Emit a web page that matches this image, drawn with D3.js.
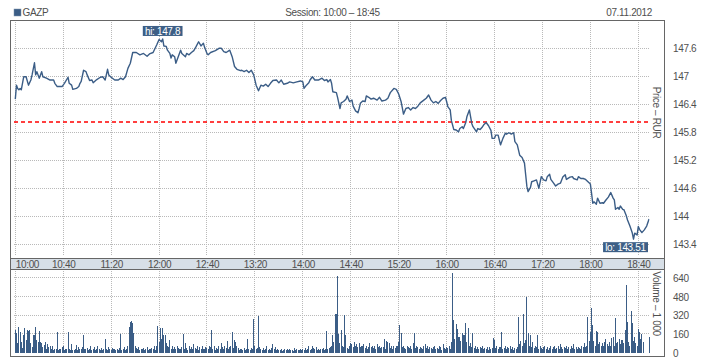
<!DOCTYPE html>
<html><head><meta charset="utf-8">
<script src="https://cdn.jsdelivr.net/npm/d3@7"></script>
<style>
html,body{margin:0;padding:0;background:#fff;}
svg text{font-family:"Liberation Sans",Arial,sans-serif;font-size:10px;fill:#4f4f4f;letter-spacing:-0.35px;}
</style></head><body>
<svg id="c" width="718" height="360"></svg>
<script>
const ticker = "GAZP";
const sessionLabel = "Session: 10:00 – 18:45";
const dateLabel = "07.11.2012";
const tradeDay = "2012-11-07";
const priceAxisTitle = "Price – RUR";
const volumeAxisTitle = "Volume – 1 000";
const timeTicks = ["10:00","10:40","11:20","12:00","12:40","13:20","14:00","14:40","15:20","16:00","16:40","17:20","18:00","18:40"];
const priceTicks = [143.4,144,144.6,145.2,145.8,146.4,147,147.6];
const volumeTicks = [0,160,320,480,640];
const prevClose = 146.02;

const priceSeries = [
["10:00",146.51],["10:01",146.81],["10:02",146.74],["10:03",146.71],["10:04",146.74],["10:05",146.71],["10:07",146.99],["10:09",146.99],
["10:11",146.81],["10:13",146.92],["10:14",147.03],["10:16",147.29],["10:17",147.03],["10:18",147.10],["10:20",146.96],["10:22",147.10],
["10:23",146.99],["10:26",146.96],["10:29",146.92],["10:32",146.92],["10:33",146.85],["10:35",146.78],["10:39",146.78],["10:41",146.85],
["10:44",146.98],["10:45",146.85],["10:47",146.81],["10:48",146.72],["10:51",146.74],["10:53",146.78],["10:54",146.85],["10:55",146.89],
["10:57",147.13],["10:59",147.10],["11:00",147.03],["11:02",146.91],["11:04",146.92],["11:05",146.86],["11:08",146.93],["11:11",146.98],
["11:13",146.99],["11:15",146.92],["11:17",147.15],["11:18",147.03],["11:20",146.98],["11:23",146.92],["11:26",146.92],["11:28",146.96],
["11:30",146.93],["11:32",146.99],["11:34",147.17],["11:36",147.28],["11:38",147.51],["11:41",147.51],["11:44",147.46],["11:47",147.49],
["11:50",147.43],["11:52",147.48],["11:55",147.51],["11:58",147.67],["12:00",147.79],["12:02",147.74],["12:03",147.80],["12:04",147.65],
["12:06",147.64],["12:07",147.56],["12:09",147.49],["12:10",147.39],["12:11",147.46],["12:13",147.42],["12:14",147.28],["12:16",147.42],
["12:18",147.56],["12:19",147.49],["12:22",147.42],["12:23",147.49],["12:25",147.46],["12:27",147.51],["12:29",147.55],["12:31",147.64],
["12:33",147.74],["12:35",147.65],["12:37",147.71],["12:38",147.62],["12:40",147.49],["12:41",147.46],["12:43",147.51],["12:47",147.55],
["12:50",147.60],["12:52",147.60],["12:54",147.53],["12:56",147.51],["12:59",147.56],["13:01",147.42],["13:03",147.21],["13:05",147.15],
["13:08",147.12],["13:09",147.13],["13:11",147.10],["13:13",147.13],["13:15",147.08],["13:17",147.13],["13:18",147.08],["13:19",147.03],
["13:21",146.81],["13:23",146.69],["13:25",146.81],["13:27",146.79],["13:29",146.83],["13:31",146.78],["13:33",146.85],["13:35",146.91],
["13:38",146.92],["13:40",146.86],["13:42",146.92],["13:44",146.83],["13:47",146.85],["13:49",146.88],["13:52",146.86],["13:55",146.88],
["13:58",146.90],["14:00",146.88],["14:01",146.74],["14:03",146.81],["14:05",146.86],["14:06",146.92],["14:08",146.99],["14:10",146.92],
["14:13",146.92],["14:16",146.96],["14:18",146.91],["14:20",146.93],["14:21",146.88],["14:23",146.93],["14:24",146.85],["14:25",146.67],
["14:28",146.65],["14:29",146.55],["14:31",146.31],["14:32",146.43],["14:34",146.46],["14:36",146.51],["14:37",146.58],["14:39",146.46],
["14:41",146.49],["14:42",146.36],["14:44",146.26],["14:46",146.22],["14:47",146.31],["14:48",146.42],["14:50",146.47],["14:52",146.46],
["14:53",146.58],["14:55",146.55],["14:57",146.51],["14:59",146.53],["15:02",146.49],["15:04",146.55],["15:06",146.47],["15:09",146.49],
["15:11",146.53],["15:13",146.65],["15:16",146.74],["15:18",146.72],["15:20",146.62],["15:22",146.46],["15:23",146.33],["15:24",146.19],
["15:26",146.31],["15:28",146.33],["15:30",146.28],["15:32",146.33],["15:34",146.31],["15:36",146.36],["15:38",146.43],["15:41",146.49],
["15:43",146.53],["15:45",146.60],["15:47",146.49],["15:49",146.43],["15:51",146.46],["15:53",146.42],["15:55",146.48],["15:57",146.53],
["15:59",146.55],["16:00",146.46],["16:01",146.35],["16:03",146.28],["16:04",146.05],["16:06",145.86],["16:08",145.85],["16:10",145.81],
["16:11",145.88],["16:13",145.92],["16:14",145.88],["16:16",146.01],["16:17",146.14],["16:19",146.28],["16:21",145.99],["16:22",145.92],
["16:25",145.81],["16:26",145.88],["16:28",145.86],["16:30",145.92],["16:31",145.96],["16:33",146.01],["16:35",145.94],["16:37",145.84],
["16:38",145.67],["16:40",145.67],["16:41",145.74],["16:43",145.74],["16:45",145.53],["16:47",145.67],["16:49",145.78],["16:50",145.76],
["16:52",145.79],["16:54",145.76],["16:56",145.79],["16:57",145.60],["16:59",145.53],["17:01",145.31],["17:03",145.26],["17:05",145.14],
["17:06",144.89],["17:07",144.64],["17:08",144.53],["17:10",144.62],["17:11",144.74],["17:13",144.76],["17:15",144.78],["17:17",144.60],
["17:19",144.85],["17:21",144.78],["17:23",144.76],["17:24",144.85],["17:26",144.90],["17:27",144.79],["17:29",144.72],["17:31",144.65],
["17:33",144.69],["17:35",144.71],["17:37",144.84],["17:39",144.89],["17:40",144.79],["17:43",144.84],["17:45",144.85],["17:46",144.81],
["17:49",144.78],["17:50",144.85],["17:52",144.81],["17:54",144.81],["17:56",144.79],["17:58",144.74],["18:00",144.69],["18:01",144.49],
["18:02",144.28],["18:03",144.31],["18:05",144.26],["18:06",144.39],["18:08",144.28],["18:10",144.29],["18:11",144.28],["18:13",144.35],
["18:15",144.41],["18:17",144.51],["18:19",144.39],["18:20",144.35],["18:21",144.15],["18:23",144.19],["18:24",144.15],["18:25",144.22],
["18:27",144.15],["18:28",144.14],["18:30",144.01],["18:31",143.92],["18:33",143.79],["18:35",143.64],["18:36",143.51],["18:37",143.64],
["18:39",143.60],["18:40",143.78],["18:41",143.72],["18:43",143.65],["18:45",143.71],["18:47",143.79],["18:49",143.94]
];

// one-minute volume bars (thousands), starting at volumeStart
const volumeStart = "10:00";
const volumes = [
194,165,80,222,180,88,43,150,208,108,
190,182,190,80,50,150,150,222,108,88,
185,88,80,50,65,88,35,70,45,60,
30,55,22,35,30,173,22,30,35,50,
60,22,30,28,173,35,22,70,22,22,
30,65,22,50,35,30,45,151,35,28,
40,22,30,55,20,28,45,22,35,60,
30,25,40,22,30,117,35,20,45,30,
22,40,28,35,20,30,25,40,162,22,
30,45,25,35,60,222,265,270,250,165,
60,40,30,45,22,35,28,40,22,30,
45,25,35,28,40,30,55,22,60,230,
90,213,120,213,150,151,80,60,45,108,
35,60,30,45,28,55,40,30,35,50,
159,30,80,40,25,60,35,45,28,70,
40,30,55,25,45,30,60,35,28,50,
40,30,55,45,191,30,60,25,40,35,
55,30,80,45,28,60,40,100,35,50,
60,173,40,110,90,60,40,25,30,35,
22,40,25,30,117,30,22,40,30,287,
60,30,40,313,50,30,22,40,25,35,
60,22,30,25,40,70,30,45,25,35,
20,25,30,18,22,28,20,35,22,30,
20,25,18,40,22,30,20,25,35,22,
28,20,40,25,30,55,22,35,60,40,
30,45,25,35,22,30,28,40,25,30,
185,30,40,45,60,151,90,327,327,654,
160,80,193,60,45,321,151,40,35,60,
80,70,45,90,60,75,50,80,45,60,
55,70,40,60,35,50,80,45,60,40,
55,35,70,45,60,40,50,45,117,35,
100,90,80,40,60,35,55,40,60,60,
90,236,165,50,60,40,35,55,45,40,
60,35,85,165,40,60,45,35,50,40,
30,60,70,40,55,35,50,40,30,45,
60,35,40,30,55,45,25,70,40,35,
50,40,60,35,90,683,278,120,244,202,
130,137,100,165,155,150,250,90,213,60,
80,45,165,40,60,35,50,30,45,40,
60,35,40,30,50,25,45,35,40,125,
110,40,60,35,45,50,173,30,40,55,
35,50,40,60,30,45,25,40,35,50,
304,71,100,60,327,80,110,475,165,60,
151,50,88,40,60,45,151,35,55,40,
30,45,60,35,50,25,40,60,30,45,
55,35,40,60,30,75,45,35,50,40,
60,30,45,35,55,40,70,30,45,35,
50,40,35,60,45,80,50,60,304,100,
173,384,236,100,60,185,173,70,88,60,
80,60,90,120,70,60,88,60,128,137,
60,299,80,90,117,70,110,108,80,193,
577,264,94,60,355,256,100,137,80,60,
202,180,120,156,88,0,0,0,0,137
];

// ---------- drawing ----------
const parseT = d3.timeParse("%Y-%m-%d %H:%M");
const t = s => parseT(tradeDay + " " + s);
const blue = "#3b5d86";

const W = 718, H = 360;
const fL = 10.5, fR = 664.5, fT = 20.5, fB = 356.5;
const bandTop = 258.5, bandBot = 269.5;
const plotL = 14, plotR = 649.5;

const x = d3.scaleTime().domain([t(timeTicks[0]), t(timeTicks[timeTicks.length-1])]).range([15.3, 638.3]);
const yP = d3.scaleLinear().domain([143.4, 147.6]).range([244.3, 48.3]);
const yV = d3.scaleLinear().domain([0, 640]).range([352.7, 277.7]);
const crisp = v => Math.floor(v) + 0.5;

const svg = d3.select("#c");
svg.append("rect").attr("width", W).attr("height", H).attr("fill", "#fff");

// axis band
svg.append("rect").attr("x", fL).attr("y", bandTop).attr("width", fR - fL).attr("height", bandBot - bandTop).attr("fill", "#d7dfe7");

const clip = svg.append("defs").append("clipPath").attr("id", "pc")
  .append("rect").attr("x", plotL).attr("y", fT + 0.5).attr("width", plotR - plotL).attr("height", bandTop - fT - 1);

const gridStyle = sel => sel.attr("stroke", "#b9b9b9").attr("stroke-width", 1).attr("stroke-dasharray", "1,1").attr("shape-rendering", "crispEdges");

// price grid
const gGrid = svg.append("g");
gGrid.selectAll("line.ph").data(priceTicks).join("line")
  .attr("x1", plotL).attr("x2", plotR).attr("y1", d => crisp(yP(d))).attr("y2", d => crisp(yP(d))).call(gridStyle);
gGrid.selectAll("line.pv").data(timeTicks).join("line")
  .attr("x1", d => crisp(x(t(d)))).attr("x2", d => crisp(x(t(d)))).attr("y1", 22).attr("y2", 256).call(gridStyle);
// volume grid
gGrid.append("g").selectAll("line").data(volumeTicks.filter(v => v > 0)).join("line")
  .attr("x1", plotL).attr("x2", plotR).attr("y1", d => crisp(yV(d))).attr("y2", d => crisp(yV(d))).call(gridStyle);
gGrid.append("g").selectAll("line").data(timeTicks).join("line")
  .attr("x1", d => crisp(x(t(d)))).attr("x2", d => crisp(x(t(d)))).attr("y1", 271).attr("y2", 353).call(gridStyle);

// previous close
svg.append("line").attr("x1", plotL).attr("x2", plotR).attr("y1", yP(prevClose)).attr("y2", yP(prevClose))
  .attr("stroke", "#ff0000").attr("stroke-width", 1.4).attr("stroke-dasharray", "4,3");

// price line
const pts = priceSeries.map(([s, v]) => ({time: t(s), value: v}));
svg.append("path").datum(pts).attr("clip-path", "url(#pc)")
  .attr("fill", "none").attr("stroke", blue).attr("stroke-width", 1.4).attr("stroke-linejoin", "round")
  .attr("d", d3.line().x(d => x(d.time)).y(d => yP(d.value)));

// volume bars
const v0 = t(volumeStart);
const vols = volumes.map((v, i) => ({time: d3.timeMinute.offset(v0, i), value: v}));
svg.append("g").selectAll("rect").data(vols.filter(d => d.value > 0)).join("rect")
  .attr("x", d => Math.floor(x(d.time))).attr("width", 1)
  .attr("y", d => Math.round(yV(d.value))).attr("height", d => Math.round(yV(0)) - Math.round(yV(d.value)))
  .attr("fill", blue).attr("shape-rendering", "crispEdges");

// frame
const frame = svg.append("g").attr("stroke", "#666").attr("stroke-width", 1).attr("fill", "none").attr("shape-rendering", "crispEdges");
frame.append("rect").attr("x", fL).attr("y", fT).attr("width", fR - fL).attr("height", fB - fT);
frame.append("line").attr("x1", fL).attr("x2", fR).attr("y1", bandTop).attr("y2", bandTop);
frame.append("line").attr("x1", fL).attr("x2", fR).attr("y1", bandBot).attr("y2", bandBot);

// x axis labels
const xAxis = svg.append("g").attr("transform", "translate(0,268)")
  .call(d3.axisBottom(x).tickValues(timeTicks.map(t)).tickFormat(d3.timeFormat("%H:%M")).tickSize(0).tickPadding(0));
xAxis.select(".domain").remove();
xAxis.selectAll("text").attr("y", 0).attr("dy", null).attr("fill", "#4f4f4f").style("font-size", "10px")
  .attr("text-anchor", (d, i) => i === 0 ? "start" : "middle");
xAxis.attr("font-family", null).attr("font-size", null);

// right axes
const pAxis = svg.append("g").attr("transform", "translate(673,0)")
  .call(d3.axisRight(yP).tickValues(priceTicks).tickFormat(d => String(d)).tickSize(0).tickPadding(0));
pAxis.select(".domain").remove();
pAxis.selectAll("text").attr("fill", "#4f4f4f").attr("dy", "0.36em");
pAxis.attr("font-family", null).attr("font-size", null);

const vAxis = svg.append("g").attr("transform", "translate(673,0)")
  .call(d3.axisRight(yV).tickValues(volumeTicks).tickFormat(d => String(d)).tickSize(0).tickPadding(0));
vAxis.select(".domain").remove();
vAxis.selectAll("text").attr("fill", "#4f4f4f").attr("dy", "0.36em");
vAxis.attr("font-family", null).attr("font-size", null);

// rotated titles
svg.append("text").attr("transform", "translate(656.5,112.5) rotate(90)").attr("text-anchor", "middle").attr("dy", "0.35em").text(priceAxisTitle);
svg.append("text").attr("transform", "translate(656.5,303.5) rotate(90)").attr("text-anchor", "middle").attr("dy", "0.35em").text(volumeAxisTitle);

// header
svg.append("rect").attr("x", 14).attr("y", 9).attr("width", 7).attr("height", 7).attr("fill", blue).attr("stroke", "#7d93ad").attr("stroke-width", 0.5);
svg.append("text").attr("x", 22.5).attr("y", 16).text(ticker);
svg.append("text").attr("x", 332.5).attr("y", 16).attr("text-anchor", "middle").text(sessionLabel);
svg.append("text").attr("x", 652).attr("y", 16).attr("text-anchor", "end").text(dateLabel);

// hi / lo markers
const hi = pts.reduce((a, b) => b.value > a.value ? b : a);
const lo = pts.reduce((a, b) => b.value < a.value ? b : a);
function marker(p, label, above) {
  const g = svg.append("g");
  const txt = g.append("text").attr("fill", "#fff").text(label);
  const w = txt.node().getComputedTextLength() + 4.5;
  const h = 10;
  let cx = x(p.time);
  let bx = Math.max(plotL + 1, Math.min(plotR - 1.5 - w, cx - w / 2));
  const by = above ? yP(p.value) - 3 - h : yP(p.value) + 3;
  g.insert("rect", "text").attr("x", bx).attr("y", by).attr("width", w).attr("height", h).attr("fill", "#3d5f86");
  txt.attr("x", bx + 2.2).attr("y", by + 8.6).style("fill", "#fff");
}
marker(hi, "hi: " + String(hi.value), true);
marker(lo, "lo: " + String(lo.value), false);
</script>
</body></html>
